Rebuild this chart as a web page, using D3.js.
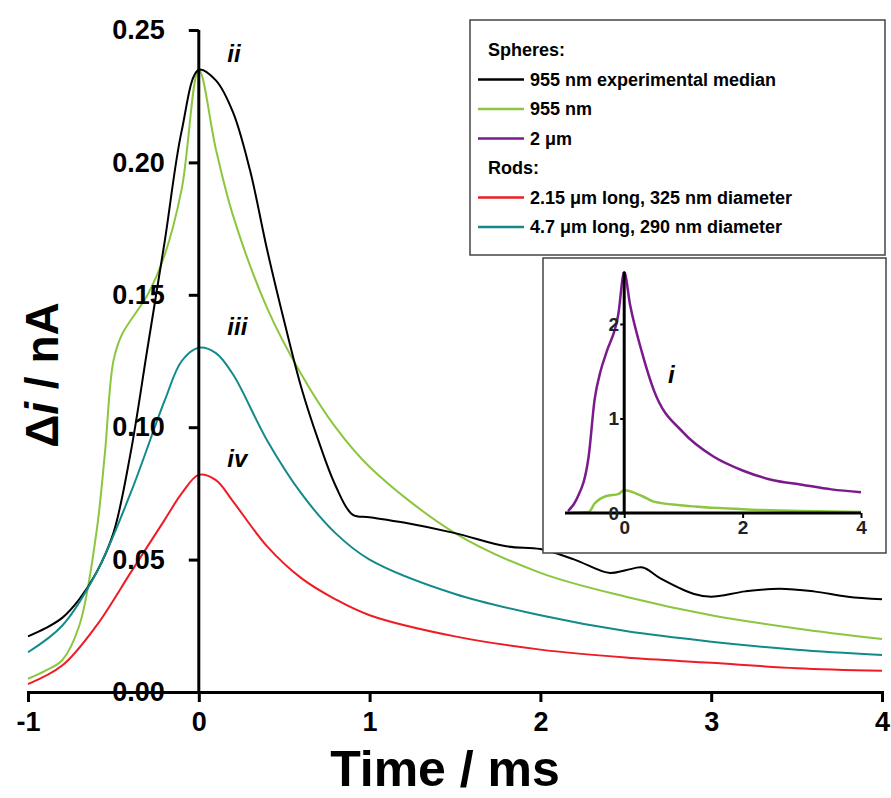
<!DOCTYPE html>
<html><head><meta charset="utf-8">
<script src="https://cdn.jsdelivr.net/npm/d3@7"></script>
<style>body{margin:0;background:#fff}svg{font-family:"Liberation Sans",Arial,sans-serif;font-weight:bold}</style>
</head><body><svg id="c" width="891" height="798"></svg>
<script>
// main chart series: [time ms, delta i nA]
var expMedian = [[-1,0.021],[-0.9,0.024],[-0.8,0.028],[-0.7,0.035],[-0.6,0.045],[-0.5,0.06],[-0.4,0.09],[-0.3,0.13],[-0.2,0.17],[-0.1,0.212],[0,0.235],[0.1,0.231],[0.2,0.219],[0.3,0.197],[0.4,0.167],[0.5,0.14],[0.6,0.115],[0.7,0.095],[0.8,0.078],[0.9,0.067],[1.0,0.066],[1.2,0.064],[1.5,0.06],[1.8,0.055],[2.0,0.054],[2.2,0.05],[2.4,0.045],[2.5,0.046],[2.6,0.047],[2.7,0.043],[2.9,0.037],[3.0,0.036],[3.2,0.038],[3.4,0.039],[3.6,0.038],[3.8,0.036],[4,0.035]];
var sphere955 = [[-1,0.005],[-0.9,0.008],[-0.8,0.012],[-0.7,0.025],[-0.6,0.06],[-0.55,0.09],[-0.5,0.125],[-0.45,0.135],[-0.3,0.15],[-0.2,0.165],[-0.1,0.19],[0,0.235],[0.1,0.205],[0.2,0.18],[0.4,0.145],[0.6,0.12],[0.8,0.1],[1.0,0.085],[1.5,0.06],[2,0.045],[2.5,0.036],[3,0.029],[3.5,0.024],[4,0.02]];
var rod47 = [[-1,0.015],[-0.8,0.025],[-0.6,0.045],[-0.4,0.075],[-0.2,0.11],[-0.1,0.125],[0,0.13],[0.1,0.128],[0.2,0.12],[0.4,0.095],[0.6,0.075],[0.8,0.06],[1,0.05],[1.5,0.037],[2,0.029],[2.5,0.023],[3,0.019],[3.5,0.016],[4,0.014]];
var rod215 = [[-1,0.003],[-0.8,0.01],[-0.6,0.025],[-0.4,0.045],[-0.3,0.055],[-0.2,0.065],[-0.1,0.075],[0,0.082],[0.1,0.08],[0.2,0.072],[0.4,0.055],[0.6,0.043],[0.8,0.035],[1,0.029],[1.5,0.021],[2,0.016],[2.5,0.013],[3,0.011],[3.5,0.009],[4,0.008]];
// inset series
var insetSphere2 = [[-0.95,0.02],[-0.8,0.15],[-0.6,0.6],[-0.5,1.2],[-0.4,1.5],[-0.3,1.7],[-0.1,2.1],[0,2.55],[0.1,2.2],[0.3,1.7],[0.5,1.3],[1,0.85],[1.5,0.6],[2,0.45],[2.5,0.35],[3,0.3],[3.5,0.25],[4,0.22]];
var insetSphere955 = [[-0.9,0],[-0.6,0.01],[-0.5,0.1],[-0.3,0.18],[-0.1,0.2],[0,0.24],[0.3,0.18],[0.5,0.12],[1,0.08],[2,0.04],[3,0.02],[4,0.01]];
var xTicks = [-1,0,1,2,3,4];
var yTicks = [0,0.05,0.10,0.15,0.20,0.25];
var insetXTicks = [0,2,4], insetYTicks = [0,1,2];
var legendItems = [
  {label:"Spheres:", color:null},
  {label:"955 nm experimental median", color:"#000"},
  {label:"955 nm", color:"#8cc63f"},
  {label:"2 μm", color:"#7b1a8c"},
  {label:"Rods:", color:null},
  {label:"2.15 μm long, 325 nm diameter", color:"#ee1c25"},
  {label:"4.7 μm long, 290 nm diameter", color:"#138a8a"}
];

var svg = d3.select("#c");
var x = d3.scaleLinear().domain([-1,4]).range([28,882]);
var y = d3.scaleLinear().domain([0,0.25]).range([692,30]);
var line = d3.line().x(d=>x(d[0])).y(d=>y(d[1])).curve(d3.curveCatmullRom);

[[sphere955,"#8cc63f"],[expMedian,"#000"],[rod47,"#138a8a"],[rod215,"#ee1c25"]].forEach(function(s){
  svg.append("path").attr("d",line(s[0])).attr("fill","none").attr("stroke",s[1]).attr("stroke-width",2);
});

// axes
var ax = svg.append("g").attr("transform","translate(0,692)").call(d3.axisBottom(x).tickValues(xTicks).tickFormat(d=>String(d)).tickSize(10).tickPadding(10));
var ay = svg.append("g").attr("transform","translate("+x(0)+",0)").call(d3.axisLeft(y).tickValues(yTicks).tickFormat(d3.format(".2f")).tickSize(10).tickPadding(24));
[ax,ay].forEach(function(a){
  a.select(".domain").attr("stroke-width",3);
  a.selectAll(".tick line").attr("stroke-width",3);
  a.selectAll("text").attr("font-size",27).attr("font-weight","bold").attr("font-family","Liberation Sans,Arial");
});
ay.select(".domain").attr("d","M0,"+y(0.25)+"V692");

svg.append("text").attr("x",445).attr("y",786).attr("text-anchor","middle").attr("font-size",50).text("Time / ms");
var yl = svg.append("text").attr("transform","translate(58,375) rotate(-90)").attr("text-anchor","middle").attr("font-size",46);
yl.append("tspan").text("Δ");
yl.append("tspan").attr("font-style","italic").text("i");
yl.append("tspan").text(" / nA");

[["ii",0.05,0.238],["iii",0.05,0.135],["iv",0.05,0.085]].forEach(function(l){
  svg.append("text").attr("x",x(l[1])+20).attr("y",y(l[2])).attr("font-size",24).attr("font-style","italic").text(l[0]);
});

// legend
var lg = svg.append("g").attr("transform","translate(470,20)");
lg.append("rect").attr("width",415).attr("height",235).attr("fill","#fff").attr("stroke","#444").attr("stroke-width",1.5);
legendItems.forEach(function(it,i){
  var yy = 36 + i*29.5;
  if (it.color) lg.append("line").attr("x1",8).attr("x2",54).attr("y1",yy-6).attr("y2",yy-6).attr("stroke",it.color).attr("stroke-width",2.5);
  lg.append("text").attr("x",it.color?60:18).attr("y",yy).attr("font-size",18).text(it.label);
});

// inset
var ig = svg.append("g");
ig.append("rect").attr("x",543).attr("y",258).attr("width",343).attr("height",295).attr("fill","#fff").attr("stroke","#444").attr("stroke-width",1.5);
var ix = d3.scaleLinear().domain([-1,4]).range([565,861]);
var iy = d3.scaleLinear().domain([0,2.55]).range([513,272]);
var iline = d3.line().x(d=>ix(d[0])).y(d=>iy(d[1])).curve(d3.curveMonotoneX);
ig.append("path").attr("d",iline(insetSphere955)).attr("fill","none").attr("stroke","#8cc63f").attr("stroke-width",2.5);
ig.append("path").attr("d",iline(insetSphere2)).attr("fill","none").attr("stroke","#7b1a8c").attr("stroke-width",2.5);
var iax = ig.append("g").attr("transform","translate(0,513)").call(d3.axisBottom(ix).tickValues(insetXTicks).tickFormat(d3.format("d")).tickSize(5).tickPadding(3));
var iay = ig.append("g").attr("transform","translate("+ix(0)+",0)").call(d3.axisLeft(iy).tickValues(insetYTicks).tickFormat(d3.format("d")).tickSize(4).tickPadding(1));
[iax,iay].forEach(function(a){
  a.select(".domain").attr("stroke-width",3);
  a.selectAll(".tick line").attr("stroke-width",2);
  a.selectAll("text").attr("font-size",19).attr("font-family","Liberation Sans,Arial").attr("fill","#222");
});
iax.select(".domain").attr("d","M"+ix(-1)+",0H"+ix(4));
iay.select(".domain").attr("d","M0,"+iy(2.55)+"V513");
ig.append("text").attr("x",668).attr("y",383).attr("font-size",24).attr("font-style","italic").text("i");
</script></body></html>
